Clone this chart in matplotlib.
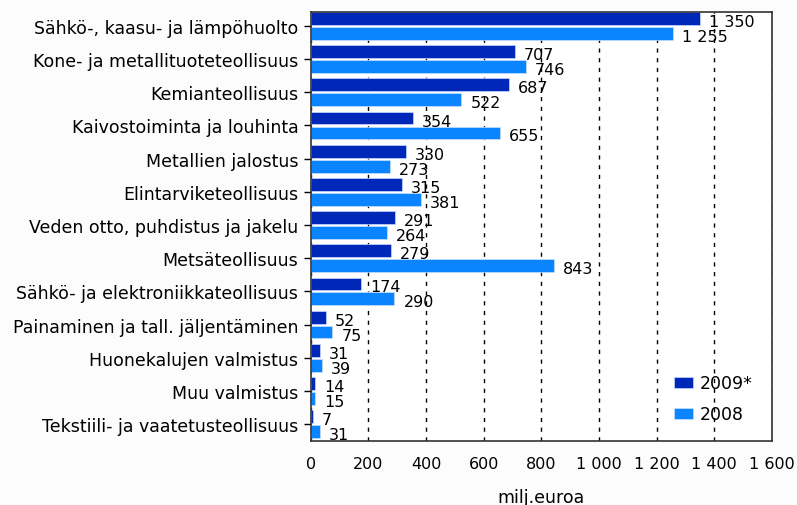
import numpy as np
import matplotlib.pyplot as plt
from matplotlib.ticker import FuncFormatter

categories = [
    "Sähkö-, kaasu- ja lämpöhuolto",
    "Kone- ja metallituoteteollisuus",
    "Kemianteollisuus",
    "Kaivostoiminta ja louhinta",
    "Metallien jalostus",
    "Elintarviketeollisuus",
    "Veden otto, puhdistus ja jakelu",
    "Metsäteollisuus",
    "Sähkö- ja elektroniikkateollisuus",
    "Painaminen ja tall. jäljentäminen",
    "Huonekalujen valmistus",
    "Muu valmistus",
    "Tekstiili- ja vaatetusteollisuus",
]
v2009 = [1350, 707, 687, 354, 330, 315, 291, 279, 174, 52, 31, 14, 7]
v2008 = [1255, 746, 522, 655, 273, 381, 264, 843, 290, 75, 39, 15, 31]
xticks = [0, 200, 400, 600, 800, 1000, 1200, 1400, 1600]

dark = "#0028b8"
light = "#0a84ff"
plt.rcParams['font.family'] = ['DejaVu Sans']
fs = 11.5
fs_big = 12.5

fig = plt.figure(figsize=(7.97, 5.06), dpi=100)
fig.patch.set_facecolor("#fcfcfc")
ax = fig.add_axes([0.390, 0.127, 0.5786, 0.848])
ax.set_facecolor("white")

y = np.arange(len(categories))
h = 0.385
off = 0.225
ax.barh(y - off, v2009, height=h, color=dark, edgecolor="#c8d8ff", linewidth=0.5, label="2009*", zorder=2)
ax.barh(y + off, v2008, height=h, color=light, edgecolor="#c8e0ff", linewidth=0.5, label="2008", zorder=2)

def fmt(v, pos=None):
    return f"{int(v):,}".replace(",", " ")

for yi, a, b in zip(y, v2009, v2008):
    ax.annotate(fmt(a), (a, yi - off), xytext=(6.5, -2.2), textcoords="offset points",
                va="center", ha="left", fontsize=fs, zorder=3)
    ax.annotate(fmt(b), (b, yi + off), xytext=(6.5, -2.2), textcoords="offset points",
                va="center", ha="left", fontsize=fs, zorder=3)

ax.set_xlim(0, 1600)
ax.set_ylim(len(categories) - 0.5, -0.43)
ax.set_yticks(y)
ax.set_yticklabels(categories, fontsize=fs_big)
ax.set_xticks(xticks)
ax.xaxis.set_major_formatter(FuncFormatter(fmt))
ax.tick_params(axis="x", labelsize=fs, length=0, pad=11)
ax.tick_params(axis="y", length=5, width=1, pad=4)
ax.xaxis.grid(True, linestyle=(0, (3, 4)), color="black", linewidth=1)
ax.set_axisbelow(True)
for s in ax.spines.values():
    s.set_color("#333333")
    s.set_linewidth(1.2)
ax.set_xlabel("milj.euroa", fontsize=fs_big, labelpad=12)

ax.legend(loc="lower right", frameon=False, fontsize=fs_big, handlelength=1.1,
          handleheight=0.6, handletextpad=0.35, borderaxespad=0.6, labelspacing=0.75,
          bbox_to_anchor=(0.995, 0.0))

fig.savefig("out.png", dpi=100, facecolor=fig.get_facecolor())
